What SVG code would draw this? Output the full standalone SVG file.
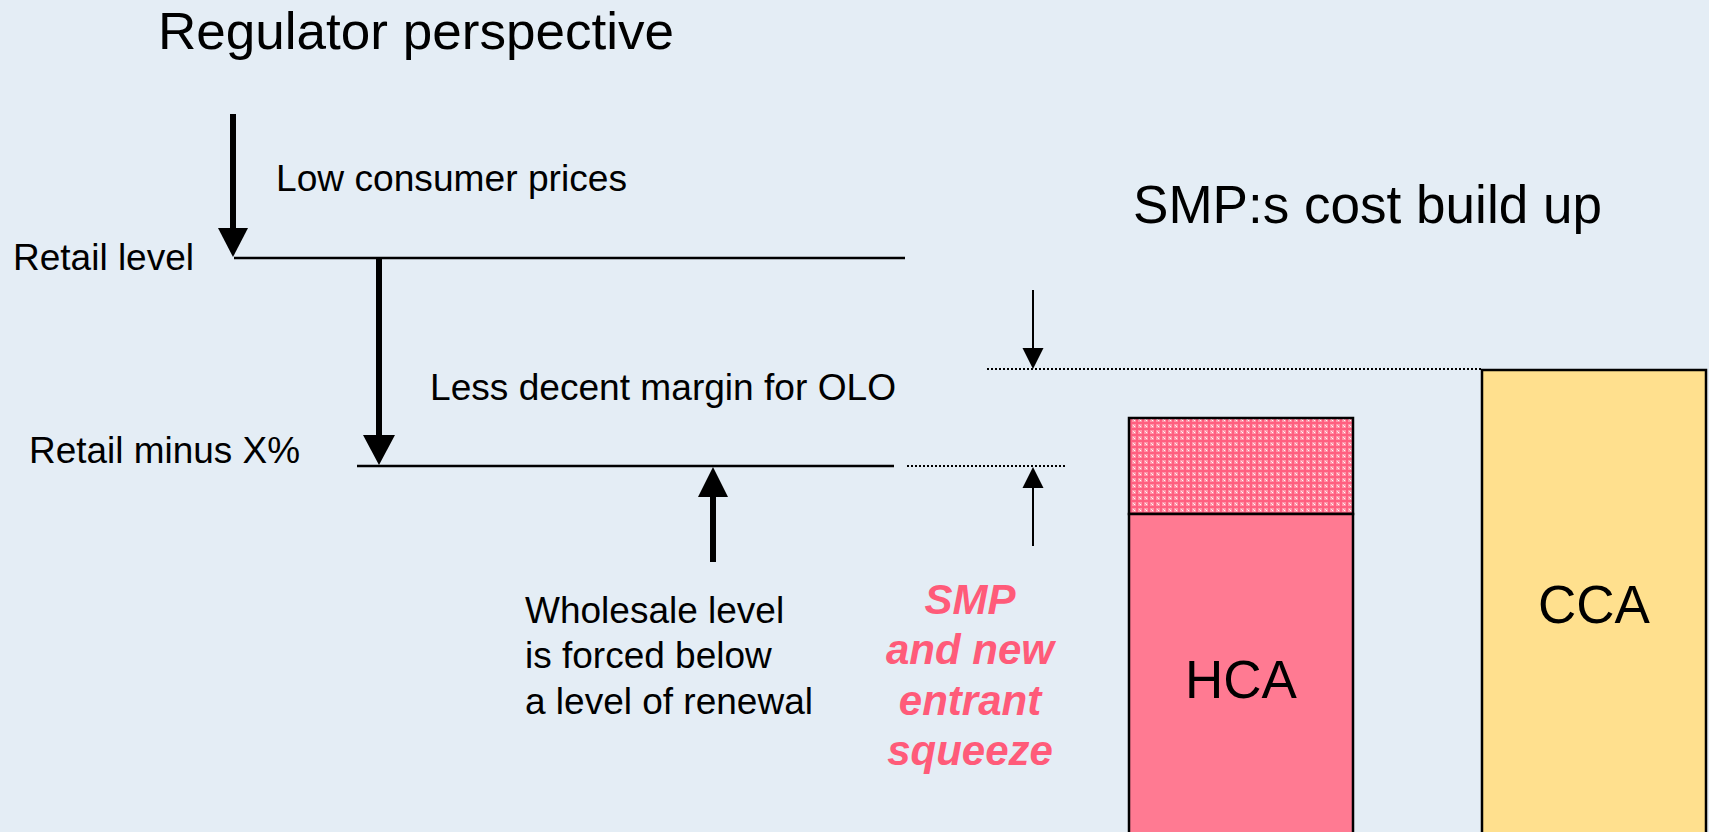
<svg xmlns="http://www.w3.org/2000/svg" width="1709" height="832" viewBox="0 0 1709 832">
  <style>
    .t { font-family: "Liberation Sans", Arial, sans-serif; fill: #000; }
    .lbl { font-size: 37px; }
    .big { font-size: 53px; }
    .sq { font-family: "Liberation Sans", Arial, sans-serif; font-size: 42px; font-weight: bold; font-style: italic; fill: #FF5B79; text-anchor: middle; }
    .lvl { stroke: #000; stroke-width: 2.5; fill: none; }
    .dot { stroke: #000; stroke-width: 2; stroke-dasharray: 2 2; fill: none; }
    .shaft { stroke: #000; stroke-width: 6; fill: none; }
    .thin { stroke: #000; stroke-width: 2; fill: none; }
    .head { fill: #000; stroke: none; }
    .box { stroke: #000; stroke-width: 2.5; }
  </style>
  <defs>
    <pattern id="hatch" width="6" height="6" patternUnits="userSpaceOnUse">
      <rect width="6" height="6" fill="#FF95A8"/>
      <rect x="2" y="0" width="2" height="6" fill="#FF5F80"/>
      <rect x="0" y="2" width="6" height="2" fill="#FF5F80"/>
      <rect x="0" y="0" width="1" height="1" fill="#FFFFFF"/>
      <rect x="5" y="5" width="1" height="1" fill="#FFE3E8"/>
    </pattern>
  </defs>
  <rect x="0" y="0" width="1709" height="832" fill="#E4EDF5"/>

  <g id="title">
    <text class="t" x="158" y="49" font-size="52" textLength="516" lengthAdjust="spacingAndGlyphs">Regulator perspective</text>
  </g>
  <g id="low-consumer-prices">
    <text class="t lbl" x="276" y="191" textLength="351" lengthAdjust="spacingAndGlyphs">Low consumer prices</text>
  </g>
  <g id="retail-level">
    <text class="t lbl" x="13" y="270" textLength="181" lengthAdjust="spacingAndGlyphs">Retail level</text>
    <line class="lvl" x1="234" y1="258" x2="905" y2="258"/>
  </g>
  <g id="less-margin">
    <text class="t lbl" x="430" y="400" textLength="466" lengthAdjust="spacingAndGlyphs">Less decent margin for OLO</text>
  </g>
  <g id="retail-minus">
    <text class="t lbl" x="29" y="463" textLength="271" lengthAdjust="spacingAndGlyphs">Retail minus X%</text>
    <line class="lvl" x1="357" y1="466" x2="894" y2="466"/>
  </g>
  <g id="wholesale">
    <text class="t lbl" x="525" y="623">Wholesale level</text>
    <text class="t lbl" x="525" y="668">is forced below</text>
    <text class="t lbl" x="525" y="714">a level of renewal</text>
  </g>
  <g id="squeeze">
    <text class="sq" x="970" y="614">SMP</text>
    <text class="sq" x="970" y="664">and new</text>
    <text class="sq" x="970" y="715">entrant</text>
    <text class="sq" x="970" y="765">squeeze</text>
  </g>
  <g id="smp-cost">
    <text class="t big" x="1133" y="223" textLength="469" lengthAdjust="spacingAndGlyphs">SMP:s cost build up</text>
  </g>
  <g id="hca">
    <rect class="box" x="1129" y="418" width="224" height="96" fill="url(#hatch)"/>
    <rect class="box" x="1129" y="514" width="224" height="330" fill="#FF7A92"/>
    <text class="t big" x="1241" y="698" text-anchor="middle">HCA</text>
  </g>
  <g id="cca">
    <rect class="box" x="1482" y="370" width="224" height="474" fill="#FFE08E"/>
    <text class="t big" x="1594" y="623" text-anchor="middle">CCA</text>
  </g>

  <g id="connectors">
    <line class="dot" x1="987" y1="369" x2="1481" y2="369"/>
    <line class="dot" x1="907" y1="466" x2="1066" y2="466"/>
    <line class="shaft" x1="233" y1="114" x2="233" y2="232"/>
    <polygon class="head" points="218,228 248,228 233,257"/>
    <line class="shaft" x1="379" y1="258" x2="379" y2="440"/>
    <polygon class="head" points="363,435 395,435 379,465"/>
    <line class="shaft" x1="713" y1="562" x2="713" y2="492"/>
    <polygon class="head" points="698,497 728,497 713,467"/>
    <line class="thin" x1="1033" y1="290" x2="1033" y2="352"/>
    <polygon class="head" points="1022.5,348 1043.5,348 1033,369"/>
    <line class="thin" x1="1033" y1="546" x2="1033" y2="484"/>
    <polygon class="head" points="1022.5,488 1043.5,488 1033,467"/>
  </g>
</svg>
